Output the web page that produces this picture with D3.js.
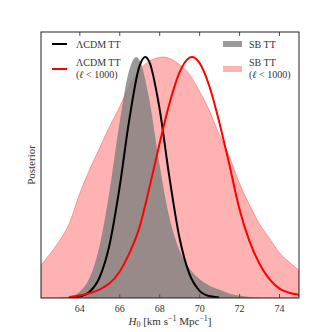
<!DOCTYPE html>
<html>
<head>
<meta charset="utf-8">
<script src="https://cdn.jsdelivr.net/npm/d3@7"></script>
<style>
body { margin: 0; background: #fff; }
text { font-family: "Liberation Serif", "DejaVu Serif", serif; fill: #333; font-weight: normal; }
</style>
</head>
<body>
<div id="chart"></div>
<script>
{
const width = 332;
const height = 332;
const margin = {top: 32, right: 33, bottom: 34, left: 41};

// posterior curves (normalised to peak = 1)
const pinkH = [62.08, 62.5, 63.0, 63.5, 64.0, 64.5, 65.0, 65.5, 66.0, 66.5, 67.0, 67.5, 68.0, 68.2, 68.5, 69.0, 69.5, 70.0, 70.5, 71.0, 71.5, 72.0, 72.5, 73.0, 73.5, 74.0, 74.5, 75.0];
const pinkP = [0.137, 0.18, 0.237, 0.31, 0.43, 0.53, 0.62, 0.71, 0.79, 0.88, 0.945, 0.983, 0.998, 1.0, 0.995, 0.97, 0.93, 0.86, 0.78, 0.68, 0.59, 0.48, 0.39, 0.31, 0.25, 0.19, 0.15, 0.115];

const grayH = [63.0, 63.5, 64.0, 64.5, 65.0, 65.5, 66.0, 66.5, 66.85, 67.0, 67.5, 68.0, 68.5, 69.0, 69.5, 70.0, 70.5, 71.0, 71.5, 72.0, 72.5, 73.0];
const grayP = [0.001, 0.006, 0.025, 0.082, 0.212, 0.438, 0.72, 0.946, 1.0, 0.99, 0.826, 0.561, 0.338, 0.201, 0.125, 0.08, 0.052, 0.035, 0.019, 0.01, 0.004, 0.001];

const blackH = [63.5, 64.0, 64.5, 65.0, 65.5, 66.0, 66.5, 67.0, 67.3, 67.5, 68.0, 68.5, 69.0, 69.5, 70.0, 70.5, 71.0];
const blackP = [0.001, 0.006, 0.025, 0.083, 0.217, 0.451, 0.739, 0.959, 1.0, 0.981, 0.794, 0.507, 0.256, 0.102, 0.032, 0.008, 0.002];

const redH = [63.5, 64.0, 64.5, 65.0, 65.5, 66.0, 66.5, 67.0, 67.5, 68.0, 68.5, 69.0, 69.5, 69.64, 70.0, 70.5, 71.0, 71.5, 72.0, 72.5, 73.0, 73.5, 74.0, 74.5, 75.0];
const redP = [0.004, 0.01, 0.02, 0.035, 0.06, 0.107, 0.185, 0.29, 0.455, 0.635, 0.803, 0.933, 0.997, 1.0, 0.978, 0.882, 0.732, 0.558, 0.375, 0.24, 0.145, 0.08, 0.04, 0.022, 0.013];

const xTicks = [64, 66, 68, 70, 72, 74];

const svg = d3.select('#chart').append('svg')
    .attr('width', width)
    .attr('height', height);

const x = d3.scaleLinear()
    .domain([62.08, 75])
    .range([margin.left, width - margin.right]);

const y = d3.scaleLinear()
    .domain([0, 1.104])
    .range([height - margin.bottom, margin.top]);

svg.append('clipPath').attr('id', 'plotclip')
    .append('rect')
    .attr('x', margin.left).attr('y', margin.top)
    .attr('width', width - margin.left - margin.right)
    .attr('height', height - margin.top - margin.bottom);

const plot = svg.append('g').attr('clip-path', 'url(#plotclip)');

const zip = (hs, ps) => hs.map((h, i) => [h, ps[i]]);

const area = d3.area()
    .x(d => x(d[0]))
    .y0(y(0))
    .y1(d => y(d[1]))
    .curve(d3.curveMonotoneX);

const line = d3.line()
    .x(d => x(d[0]))
    .y(d => y(d[1]))
    .curve(d3.curveMonotoneX);

plot.append('path')
    .datum(zip(pinkH, pinkP))
    .attr('d', area)
    .style('fill', 'rgba(255,0,0,0.3)')
    .style('stroke', 'rgba(255,0,0,0.3)')
    .style('stroke-width', 1);

plot.append('path')
    .datum(zip(grayH, grayP))
    .attr('d', area)
    .style('fill', 'rgba(128,128,128,0.8)');

plot.append('path')
    .datum(zip(blackH, blackP))
    .attr('d', line)
    .style('fill', 'none')
    .style('stroke', '#000')
    .style('stroke-width', 2);

plot.append('path')
    .datum(zip(redH, redP))
    .attr('d', line)
    .style('fill', 'none')
    .style('stroke', '#ff0000')
    .style('stroke-width', 2);

// axes, ticks pointing inwards on top and bottom
const xBottom = svg.append('g')
    .attr('transform', `translate(0, ${height - margin.bottom})`)
    .call(d3.axisBottom(x).tickValues(xTicks).tickSizeInner(-4).tickSizeOuter(0).tickPadding(7));
xBottom.select('.domain').remove();
xBottom.selectAll('line').style('stroke', '#555');
xBottom.selectAll('text')
    .style('font-family', '"Liberation Serif", serif')
    .style('font-size', '10px')
    .style('fill', '#333');

const xTop = svg.append('g')
    .attr('transform', `translate(0, ${margin.top})`)
    .call(d3.axisTop(x).tickValues(xTicks).tickSizeInner(-4).tickSizeOuter(0).tickFormat(''));
xTop.select('.domain').remove();
xTop.selectAll('line').style('stroke', '#555');

svg.append('rect')
    .attr('x', margin.left).attr('y', margin.top)
    .attr('width', width - margin.left - margin.right)
    .attr('height', height - margin.top - margin.bottom)
    .style('fill', 'none')
    .style('stroke', '#222')
    .style('stroke-width', 1);

// axis labels
const xl = svg.append('text')
    .attr('x', (margin.left + width - margin.right) / 2)
    .attr('y', 325)
    .style('text-anchor', 'middle')
    .style('font-size', '11px');
xl.append('tspan').style('font-style', 'italic').text('H');
xl.append('tspan').attr('dy', 2).style('font-size', '8px').text('0');
xl.append('tspan').attr('dy', -2).text(' [km s');
xl.append('tspan').attr('dy', -4).style('font-size', '8px').text('\u22121');
xl.append('tspan').attr('dy', 4).text(' Mpc');
xl.append('tspan').attr('dy', -4).style('font-size', '8px').text('\u22121');
xl.append('tspan').attr('dy', 4).text(']');

svg.append('text')
    .attr('transform', `translate(35, ${(margin.top + height - margin.bottom) / 2}) rotate(-90)`)
    .style('text-anchor', 'middle')
    .style('font-size', '11px')
    .text('Posterior');

// legend
const leg = svg.append('g');
const ell = (sel) => {
    sel.append('tspan').text('(');
    sel.append('tspan').style('font-style', 'italic').text('\u2113');
    sel.append('tspan').text(' < 1000)');
};

leg.append('line').attr('x1', 52).attr('x2', 67).attr('y1', 44).attr('y2', 44)
    .style('stroke', '#000').style('stroke-width', 2);
leg.append('text').attr('x', 76).attr('y', 48).style('font-size', '10px').text('\u039BCDM TT');

leg.append('line').attr('x1', 52).attr('x2', 67).attr('y1', 69).attr('y2', 69)
    .style('stroke', '#ff0000').style('stroke-width', 2);
leg.append('text').attr('x', 76).attr('y', 66).style('font-size', '10px').text('\u039BCDM TT');
leg.append('text').attr('x', 76).attr('y', 78).style('font-size', '10px').call(ell);

leg.append('rect').attr('x', 223).attr('y', 41).attr('width', 19).attr('height', 6)
    .style('fill', 'rgba(128,128,128,0.8)');
leg.append('text').attr('x', 249).attr('y', 48).style('font-size', '10px').text('SB TT');

leg.append('rect').attr('x', 223).attr('y', 66).attr('width', 19).attr('height', 6)
    .style('fill', 'rgba(255,0,0,0.3)');
leg.append('text').attr('x', 249).attr('y', 66).style('font-size', '10px').text('SB TT');
leg.append('text').attr('x', 249).attr('y', 78).style('font-size', '10px').call(ell);
}
</script>
</body>
</html>
